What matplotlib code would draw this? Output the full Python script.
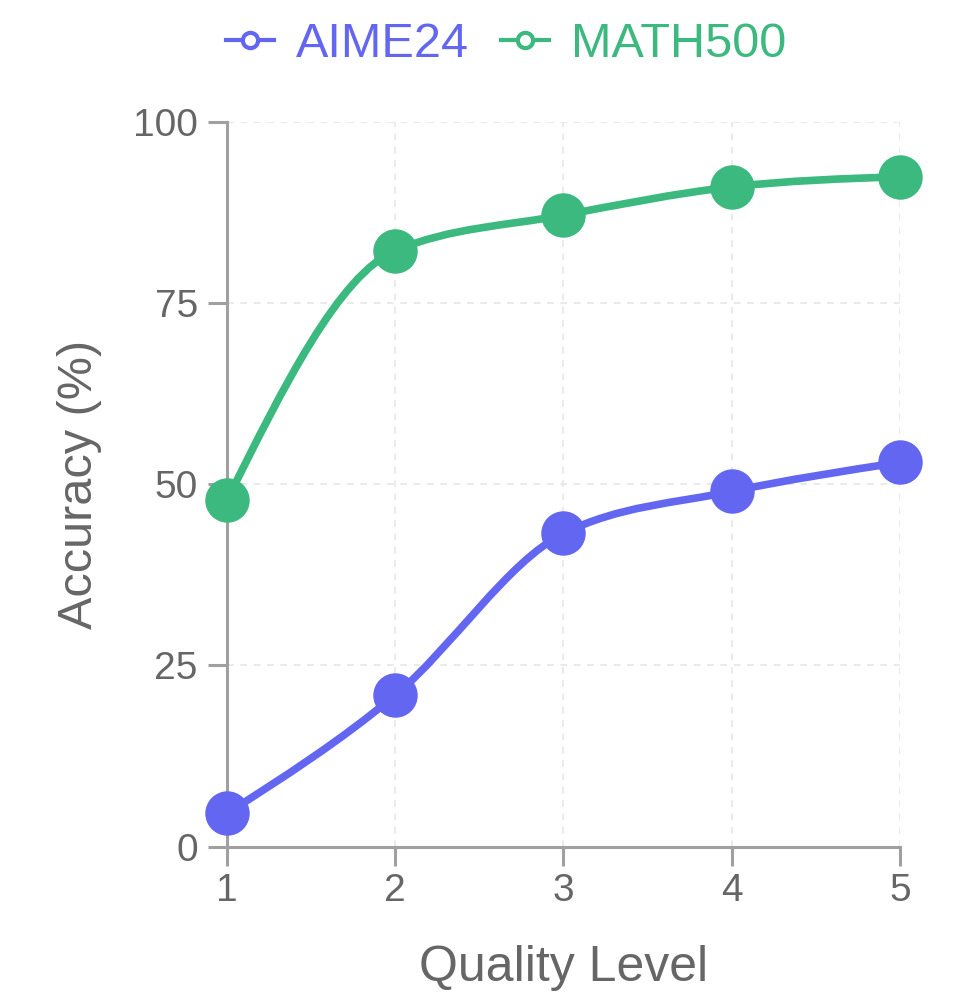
import numpy as np
import matplotlib.pyplot as plt
from matplotlib.path import Path
from matplotlib.patches import PathPatch
from matplotlib.lines import Line2D

plt.rcParams['font.family'] = ['Liberation Sans', 'DejaVu Sans']

# data
quality = [1, 2, 3, 4, 5]
aime24 = [4.6, 20.9, 43.2, 49.0, 53.0]
math500 = [47.8, 82.2, 87.1, 91.0, 92.4]

indigo = '#6366F1'
green = '#3BB97E'
axis_grey = '#a0a0a0'
text_grey = '#666666'


def monotone_path(xs, ys):
    # monotone cubic (like d3 curveMonotoneX) drawn as bezier segments
    xs = np.asarray(xs, float)
    ys = np.asarray(ys, float)
    n = len(xs)
    t = np.zeros(n)
    for i in range(1, n - 1):
        h0 = xs[i] - xs[i - 1]
        h1 = xs[i + 1] - xs[i]
        s0 = (ys[i] - ys[i - 1]) / h0
        s1 = (ys[i + 1] - ys[i]) / h1
        p = (s0 * h1 + s1 * h0) / (h0 + h1)
        t[i] = (np.sign(s0) + np.sign(s1)) * min(abs(s0), abs(s1), 0.5 * abs(p))
    h = xs[1] - xs[0]
    t[0] = (3 * (ys[1] - ys[0]) / h - t[1]) / 2
    h = xs[-1] - xs[-2]
    t[-1] = (3 * (ys[-1] - ys[-2]) / h - t[-2]) / 2
    verts = [(xs[0], ys[0])]
    codes = [Path.MOVETO]
    for i in range(n - 1):
        dx = (xs[i + 1] - xs[i]) / 3
        verts += [(xs[i] + dx, ys[i] + dx * t[i]),
                  (xs[i + 1] - dx, ys[i + 1] - dx * t[i + 1]),
                  (xs[i + 1], ys[i + 1])]
        codes += [Path.CURVE4] * 3
    return Path(verts, codes)


fig = plt.figure(figsize=(9.64, 9.94), dpi=100)
ax = fig.add_axes([0.2355, 0.1482, 0.698, 0.7294])

for ys, c in [(aime24, indigo), (math500, green)]:
    ax.add_patch(PathPatch(monotone_path(quality, ys), fill=False,
                           edgecolor=c, lw=5.5, capstyle='round', zorder=3))
    ax.plot(quality, ys, 'o', color=c, ms=32, mew=0, zorder=4, clip_on=False)

ax.set_xlim(1, 5)
ax.set_ylim(0, 100)
ax.set_xticks(quality)
ax.set_yticks([0, 25, 50, 75, 100])

ax.grid(True, color='#e6e6e6', linestyle=(0, (4, 4)), linewidth=1.2, zorder=0)

for s in ['top', 'right']:
    ax.spines[s].set_visible(False)
for s in ['left', 'bottom']:
    ax.spines[s].set_color(axis_grey)
    ax.spines[s].set_linewidth(2.2)

ax.tick_params(axis='both', colors=axis_grey, labelcolor=text_grey,
               labelsize=28, length=14, width=2.2)
ax.tick_params(axis='x', pad=5)
ax.tick_params(axis='y', pad=7)

ax.set_xlabel('Quality Level', fontsize=36, color=text_grey, labelpad=26)
ax.set_ylabel('Accuracy (%)', fontsize=35, color=text_grey, labelpad=22)

handles = [
    Line2D([], [], color=indigo, lw=3, marker='o', ms=11, mfc='white', mew=3),
    Line2D([], [], color=green, lw=3, marker='o', ms=11, mfc='white', mew=3),
]
leg = fig.legend(handles, ['AIME24', 'MATH500'], loc='center',
                 bbox_to_anchor=(0.525, 0.955), ncol=2, frameon=False,
                 fontsize=35, handlelength=1.0, handletextpad=0.45,
                 columnspacing=0.65)
for txt, c in zip(leg.get_texts(), [indigo, green]):
    txt.set_color(c)

fig.savefig('out.png', dpi=100)
